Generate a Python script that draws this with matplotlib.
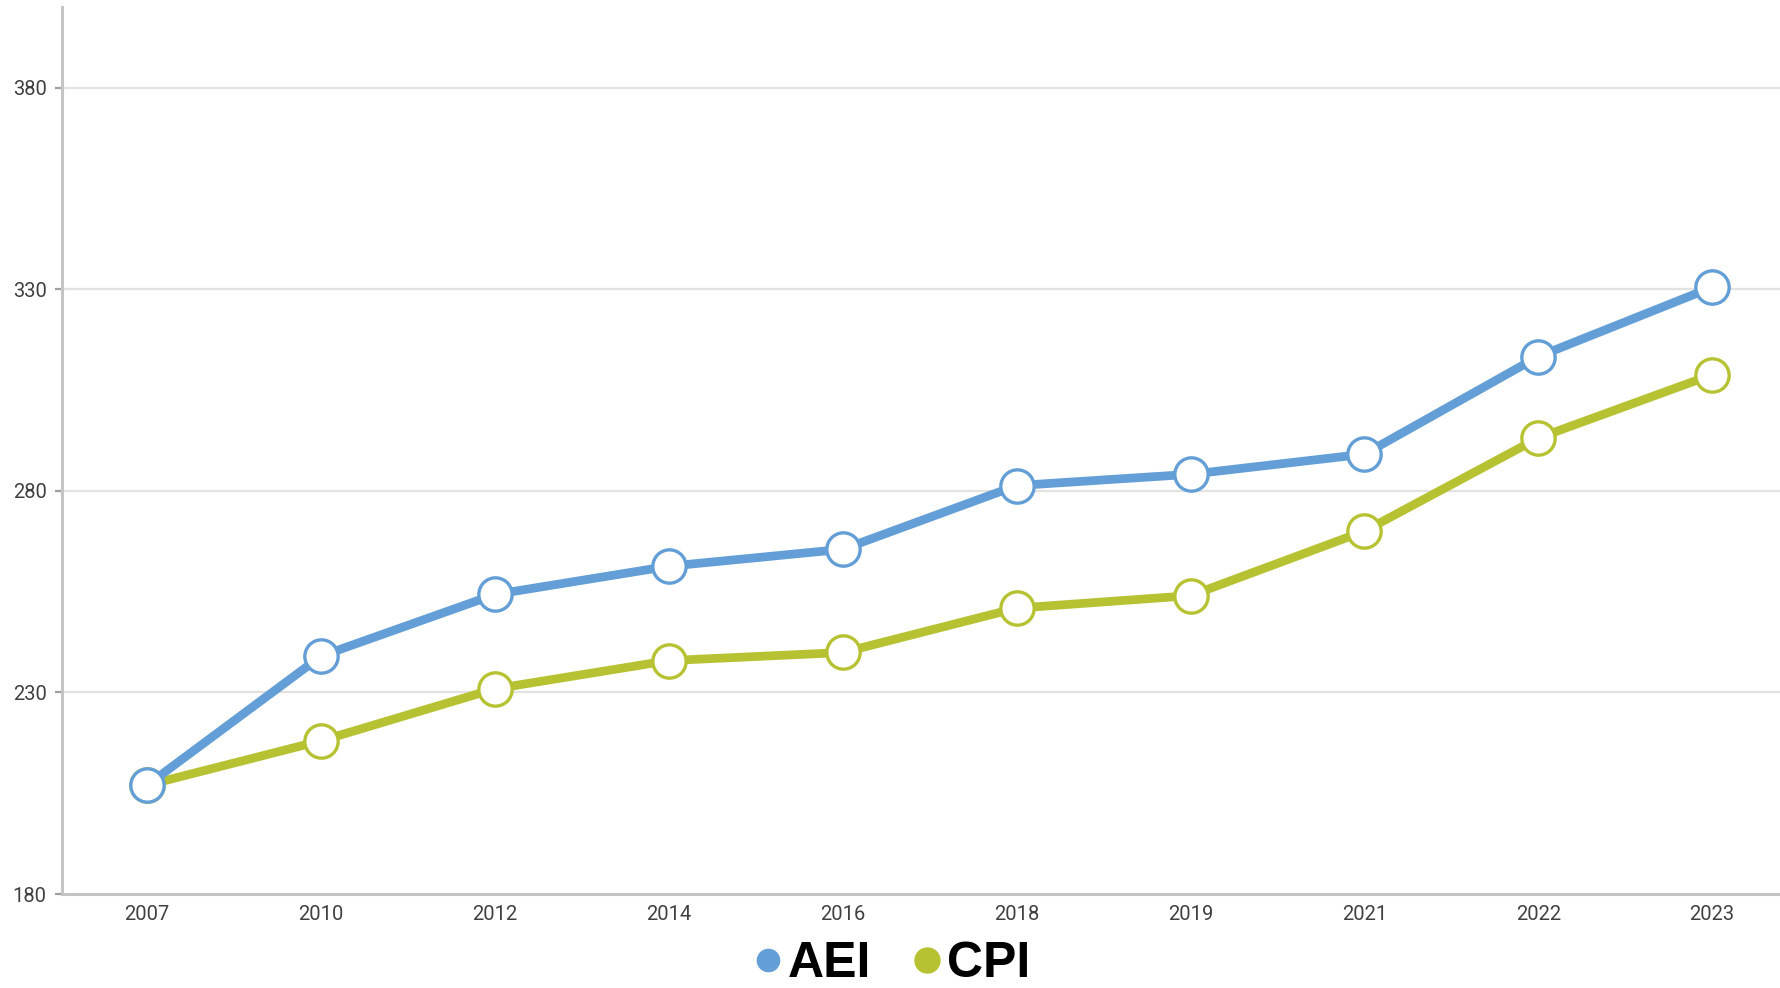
import matplotlib
matplotlib.use('Agg')
import matplotlib.pyplot as plt
from matplotlib.lines import Line2D

# Data
years = ['2007', '2010', '2012', '2014', '2016', '2018', '2019', '2021', '2022', '2023']
aei = [207.0, 239.0, 254.3, 261.3, 265.5, 281.3, 284.1, 289.1, 313.3, 330.5]
cpi = [207.0, 218.0, 230.9, 237.9, 239.9, 250.9, 254.0, 270.0, 293.1, 308.8]
y_ticks = [180, 230, 280, 330, 380]

BLUE = '#639fd6'
GREEN = '#b7c232'
TICK_COLOR = '#404040'

fig = plt.figure(figsize=(17.8, 9.88), dpi=100)
ax = fig.add_axes([62 / 1780, 94 / 988, 1718 / 1780, 887 / 988])

x = list(range(len(years)))

# gridlines
for t in y_ticks[1:]:
    ax.axhline(t, color='#e2e2e2', lw=1.6, zorder=0)

ax.plot(x, cpi, color=GREEN, lw=6.3, marker='o', markersize=24,
        markerfacecolor='white', markeredgecolor=GREEN, markeredgewidth=2.4,
        solid_joinstyle='round', zorder=3)
ax.plot(x, aei, color=BLUE, lw=6.3, marker='o', markersize=24,
        markerfacecolor='white', markeredgecolor=BLUE, markeredgewidth=2.4,
        solid_joinstyle='round', zorder=4)

ax.set_xlim(-0.49, 9.39)
ax.set_ylim(180, 400)
ax.set_xticks(x)
ax.set_xticklabels(years)
ax.set_yticks(y_ticks)

for s in ['top', 'right']:
    ax.spines[s].set_visible(False)
for s in ['left', 'bottom']:
    ax.spines[s].set_color('#c4c4c4')
    ax.spines[s].set_linewidth(2.2)

ax.tick_params(axis='y', length=5, width=1.6, color='#a0a0a0', pad=6,
               labelsize=14.5, labelcolor=TICK_COLOR)
ax.tick_params(axis='x', length=0, pad=8, labelsize=14.5, labelcolor=TICK_COLOR)
for lab in ax.get_xticklabels() + ax.get_yticklabels():
    lab.set_fontfamily('Roboto')

handles = [
    Line2D([], [], ls='none', marker='o', markersize=16, color=BLUE),
    Line2D([], [], ls='none', marker='o', markersize=18, color=GREEN),
]
fig.legend(handles, ['AEI', 'CPI'], loc='center', bbox_to_anchor=(0.498, 0.024),
           ncol=2, frameon=False, handletextpad=-0.1, columnspacing=0.6,
           handlelength=1.0, borderpad=0.1,
           prop={'family': 'Liberation Sans', 'weight': 'bold', 'size': 36})

fig.savefig('out.png', dpi=100)
